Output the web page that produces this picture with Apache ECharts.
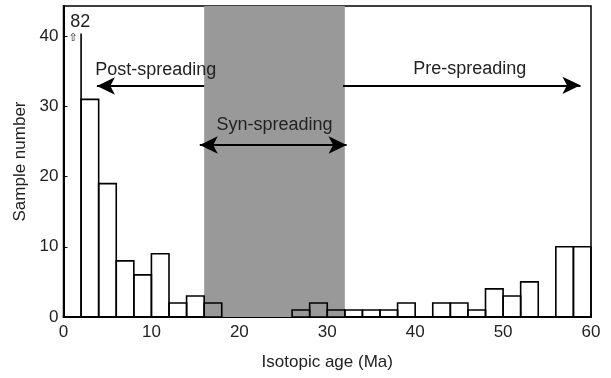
<!DOCTYPE html>
<html>
<head>
<meta charset="utf-8">
<script src="https://cdn.jsdelivr.net/npm/echarts@6/dist/echarts.min.js"></script>
<style>
  html, body { margin: 0; padding: 0; background: #fff; }
  #chart { width: 611px; height: 378px; }
</style>
</head>
<body>
<div id="chart"></div>
<script>
// histogram bins, 2 Ma wide
const binStarts = [0, 2, 4, 6, 8, 10, 12, 14, 16, 18, 20, 22, 24, 26, 28,
  30, 32, 34, 36, 38, 40, 42, 44, 46, 48, 50, 52, 54, 56, 58];
const counts = [82, 31, 19, 8, 6, 9, 2, 3, 2, 0, 0, 0, 0, 1, 2,
  1, 1, 1, 1, 2, 0, 2, 2, 1, 4, 3, 5, 0, 10, 10];
const binWidth = 2;
const synRange = [16, 32];
const xTicks = [0, 10, 20, 30, 40, 50, 60];
const yTicks = [0, 10, 20, 30, 40];

const CLIP = 40.4; // the 82 bar is cut off here
const FONT = "Liberation Sans";

const chart = echarts.init(document.getElementById("chart"));

const binData = binStarts.map((s, i) => [s, s + binWidth, counts[i]]);

chart.setOption({
  animation: false,
  backgroundColor: "#fff",
  grid: {
    left: 63.5, right: 20, top: 6, bottom: 61,
    show: true, borderColor: "#000", borderWidth: 1.5,
  },
  xAxis: {
    type: "value",
    min: 0, max: 60, interval: 10,
    name: "Isotopic age (Ma)",
    nameLocation: "middle",
    nameGap: 37,
    nameTextStyle: { fontFamily: FONT, fontSize: 17, color: "#222" },
    axisLine: { lineStyle: { color: "#000", width: 2 } },
    axisTick: { inside: true, length: 4, lineStyle: { color: "#000" } },
    axisLabel: { fontFamily: FONT, fontSize: 17, color: "#222", margin: 7 },
    splitLine: { show: false },
  },
  yAxis: {
    type: "value",
    min: 0, max: 44.3, interval: 10,
    name: "Sample number",
    nameLocation: "middle",
    nameGap: 29,
    nameTextStyle: { fontFamily: FONT, fontSize: 17, color: "#222" },
    axisLine: { show: true, lineStyle: { color: "#000", width: 2 } },
    axisTick: { inside: true, length: 4, lineStyle: { color: "#000" } },
    axisLabel: {
      fontFamily: FONT, fontSize: 17, color: "#222", margin: 5,
      showMaxLabel: false,
      formatter: (v) => (yTicks.includes(v) ? String(v) : ""),
    },
    splitLine: { show: false },
  },
  series: [
    {
      // syn-spreading shaded band
      type: "custom",
      z: 1,
      silent: true,
      data: [[synRange[0], synRange[1]]],
      renderItem: (params, api) => {
        const a = api.coord([api.value(0), 0]);
        const b = api.coord([api.value(1), 0]);
        const cs = params.coordSys;
        return {
          type: "rect",
          shape: { x: a[0], y: cs.y, width: b[0] - a[0], height: cs.height },
          style: { fill: "#999999" },
        };
      },
      markLine: {
        silent: true,
        symbolSize: [13, 18],
        label: { show: false },
        lineStyle: { color: "#000", width: 2, type: "solid" },
        data: [
          [{ coord: [16, 32.9], symbol: "none" }, { coord: [3.8, 32.9], symbol: "arrow" }],
          [{ coord: [31.8, 33.0], symbol: "none" }, { coord: [58.8, 33.0], symbol: "arrow" }],
          [{ coord: [15.5, 24.5], symbol: "arrow" }, { coord: [32.2, 24.5], symbol: "arrow" }],
        ],
      },
      markPoint: {
        silent: true,
        symbol: "circle",
        symbolSize: 0,
        label: { show: true, fontFamily: FONT, fontSize: 18, color: "#222" },
        data: [
          { coord: [10.5, 35.2], value: "Post-spreading", label: { formatter: "Post-spreading" } },
          { coord: [24.0, 27.3], value: "Syn-spreading", label: { formatter: "Syn-spreading" } },
          { coord: [46.2, 35.3], value: "Pre-spreading", label: { formatter: "Pre-spreading" } },
          { coord: [1.9, 42.0], value: "82", label: { formatter: String(counts[0]) } },
          { coord: [1.1, 39.7], value: "up", label: { formatter: "⇧", fontSize: 11, fontFamily: "DejaVu Sans" } },
        ],
      },
    },
    {
      type: "custom",
      z: 3,
      clip: true,
      data: binData,
      renderItem: (params, api) => {
        const c = api.value(2);
        if (!c) return null;
        const h = Math.min(c, CLIP);
        const p0 = api.coord([api.value(0), 0]);
        const p1 = api.coord([api.value(1), h]);
        const style = { fill: "none", stroke: "#000", lineWidth: 1.6 };
        if (c > CLIP) {
          return {
            type: "polyline",
            shape: { points: [[p0[0], p1[1]], [p0[0], p0[1]], [p1[0], p0[1]], [p1[0], p1[1]]] },
            style,
          };
        }
        return {
          type: "rect",
          shape: { x: p0[0], y: p1[1], width: p1[0] - p0[0], height: p0[1] - p1[1] },
          style,
        };
      },
    },
  ],
});
</script>
</body>
</html>
